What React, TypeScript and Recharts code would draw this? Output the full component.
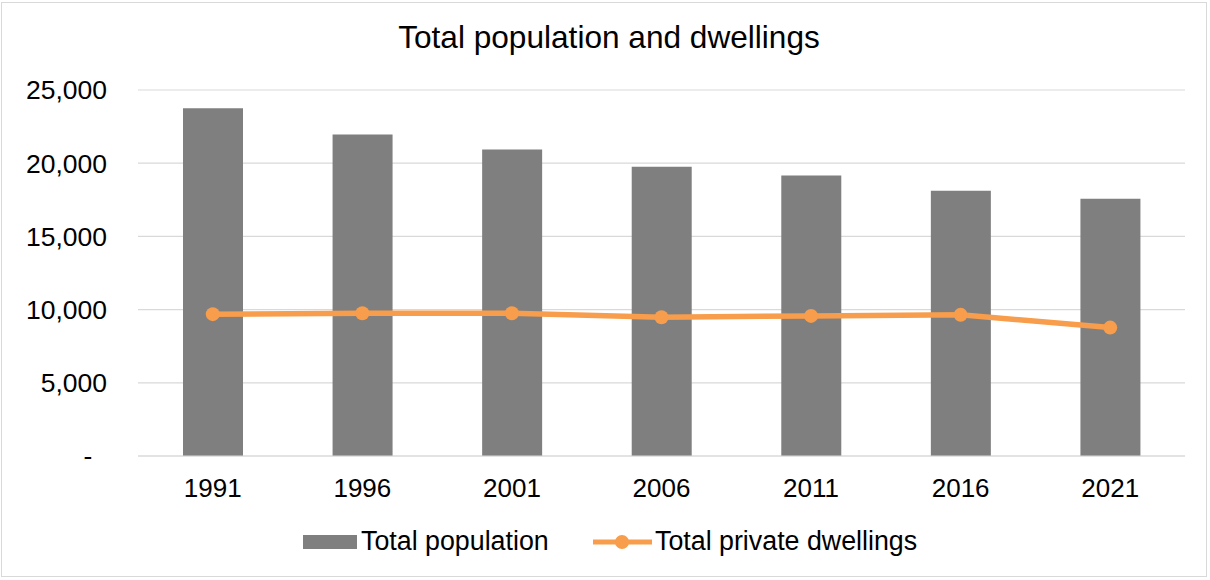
import React from 'react';
import {
  ComposedChart,
  Bar,
  Line,
  XAxis,
  YAxis,
  CartesianGrid,
} from 'recharts';

// values
const years = ['1991', '1996', '2001', '2006', '2011', '2016', '2021'];
const totalPopulation = [23750, 21960, 20940, 19750, 19160, 18110, 17580];
const privateDwellings = [9690, 9750, 9750, 9480, 9570, 9640, 8770];
const yTicks = [0, 5000, 10000, 15000, 20000, 25000];

const FONT = '"Liberation Sans", Arial, sans-serif';
const GREY = '#7f7f7f';
const ORANGE = '#f79d4b';

const data = years.map((year, i) => ({
  year,
  population: totalPopulation[i],
  dwellings: privateDwellings[i],
}));

// Excel accounting style: zero shows as a dash
const formatTick = (v: number) =>
  v === 0 ? '-\u00a0\u00a0' : v.toLocaleString('en-US');

const LegendRow = () => (
  <div
    style={{
      position: 'absolute',
      top: 528,
      left: 0,
      width: 1210,
      height: 27,
      fontFamily: FONT,
      fontSize: 26.8,
      lineHeight: '27px',
      color: '#000',
    }}
  >
    <div style={{ position: 'absolute', left: 303, top: 7, width: 54, height: 14, background: GREY }} />
    <span style={{ position: 'absolute', left: 361, top: 0, whiteSpace: 'nowrap' }}>Total population</span>
    <svg style={{ position: 'absolute', left: 592, top: 0 }} width={62} height={27}>
      <line x1={1} y1={14} x2={60} y2={14} stroke={ORANGE} strokeWidth={5} />
      <circle cx={30} cy={14} r={7} fill={ORANGE} />
    </svg>
    <span style={{ position: 'absolute', left: 655, top: 0, whiteSpace: 'nowrap' }}>Total private dwellings</span>
  </div>
);

export default function App() {
  return (
    <div
      style={{
        position: 'absolute',
        left: 0,
        top: 0,
        width: 1210,
        height: 580,
        background: '#fff',
        overflow: 'hidden',
      }}
    >
      <div
        style={{
          position: 'absolute',
          left: 1,
          top: 2,
          width: 1206,
          height: 575,
          border: '1px solid #d9d9d9',
          boxSizing: 'border-box',
        }}
      />
      <div
        style={{
          position: 'absolute',
          top: 22,
          left: 4,
          width: 1210,
          textAlign: 'center',
          fontFamily: FONT,
          fontSize: 31.6,
          lineHeight: '31px',
          color: '#000',
        }}
      >
        Total population and dwellings
      </div>
      <div style={{ position: 'absolute', left: 0, top: 0 }}>
        <ComposedChart
          width={1210}
          height={580}
          data={data}
          margin={{ top: 90, right: 25, left: 0, bottom: 84 }}
        >
          <CartesianGrid vertical={false} stroke="#d9d9d9" strokeWidth={1.2} />
          <XAxis
            dataKey="year"
            height={40}
            axisLine={{ stroke: '#d9d9d9', strokeWidth: 1.2 }}
            tickLine={false}
            tickSize={0}
            tickMargin={23}
            tick={{ fontSize: 26, fill: '#000', fontFamily: FONT }}
          />
          <YAxis
            width={138}
            domain={[0, 25000]}
            ticks={yTicks}
            axisLine={false}
            tickLine={false}
            tickSize={0}
            tickMargin={31}
            tickFormatter={formatTick}
            tick={{ fontSize: 26.5, fill: '#000', fontFamily: FONT }}
          />
          <Bar dataKey="population" fill={GREY} barSize={60} isAnimationActive={false} />
          <Line
            type="linear"
            dataKey="dwellings"
            stroke={ORANGE}
            strokeWidth={5.5}
            dot={{ r: 7, fill: ORANGE, stroke: ORANGE, strokeWidth: 0 }}
            activeDot={false}
            isAnimationActive={false}
          />
        </ComposedChart>
      </div>
      <LegendRow />
    </div>
  );
}
